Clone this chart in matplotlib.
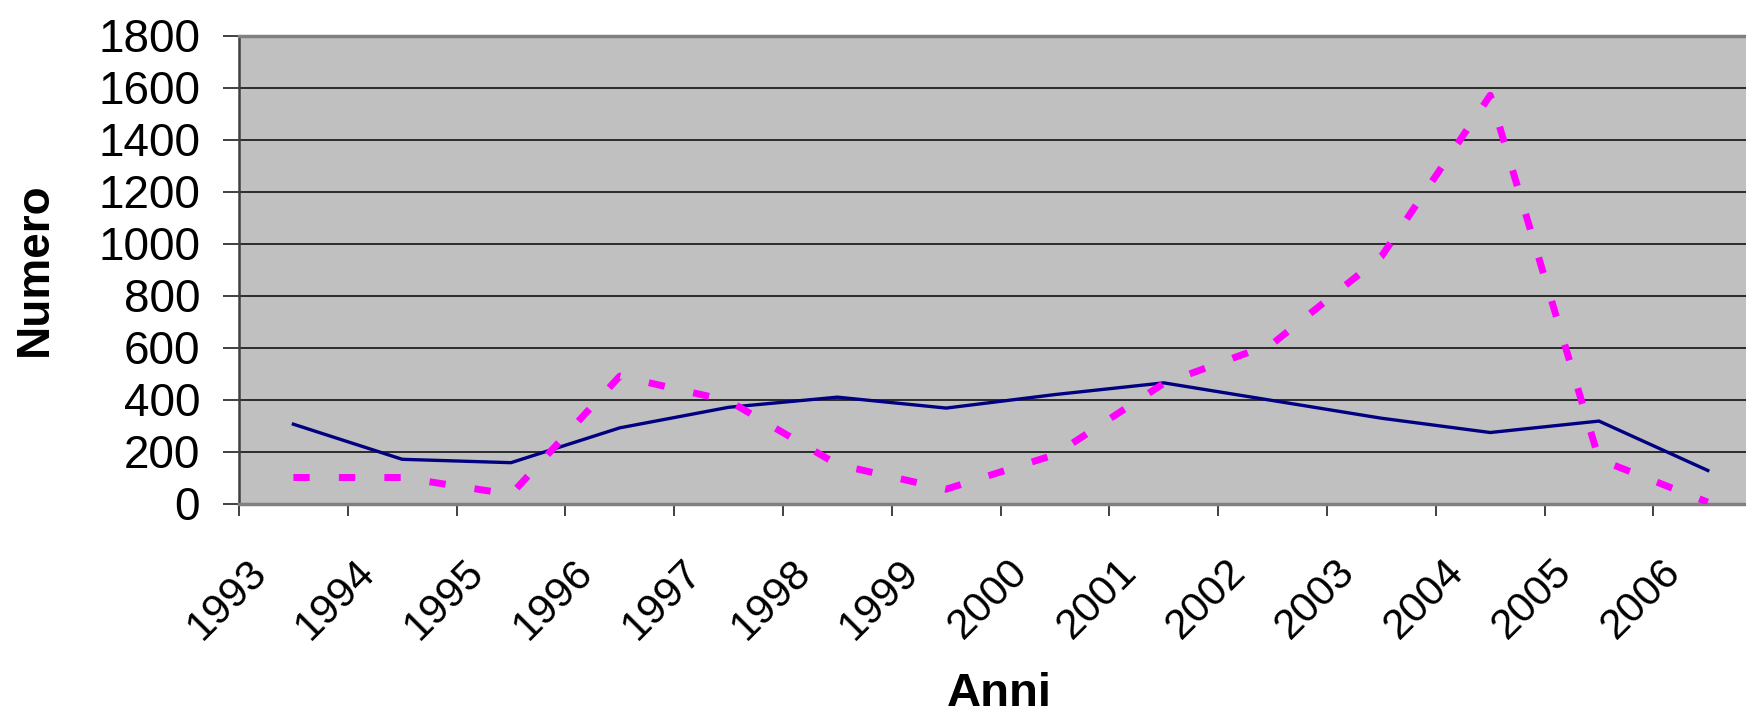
import matplotlib
matplotlib.use("Agg")
import matplotlib.pyplot as plt
from matplotlib.transforms import ScaledTranslation
import numpy as np

years = ["1993", "1994", "1995", "1996", "1997", "1998", "1999",
         "2000", "2001", "2002", "2003", "2004", "2005", "2006"]
serie_blu = [305, 170, 157, 291, 370, 409, 367, 419, 464, 396, 328, 273, 317, 127]
serie_rosa = [100, 100, 35, 490, 395, 150, 55, 188, 462, 615, 950, 1570, 170, 5]
y_ticks = [0, 200, 400, 600, 800, 1000, 1200, 1400, 1600, 1800]

plt.rcParams['font.family'] = ['Liberation Sans', 'DejaVu Sans']

W, H = 1746, 717
fig = plt.figure(figsize=(W / 100, H / 100), dpi=100)
left = 239 / W
bottom = (H - 503.5) / H
width = (14 * 108.8) / W
height = 468 / H
ax = fig.add_axes([left, bottom, width, height])
ax.set_facecolor('#C0C0C0')

x = np.arange(len(years)) + 0.5
ax.plot(x, serie_blu, color='#000080', lw=2.4, zorder=3, solid_joinstyle='miter')
ax.plot(x, serie_rosa, color='#FF00FF', lw=5, dashes=(2.35, 4.2),
        dash_capstyle='butt', zorder=4)

ax.set_xlim(0, 14)
ax.set_ylim(0, 1800)
ax.set_yticks(y_ticks)
ax.set_yticklabels([str(v) for v in y_ticks])
ax.yaxis.grid(True, color='#202020', lw=1.3)
ax.set_axisbelow(True)
ax.set_xticks(np.arange(0, 15))
ax.set_xticklabels([])
ax.tick_params(axis='x', direction='out', length=8.8, width=1.2, color='#202020')
ax.tick_params(axis='y', direction='out', length=11.5, width=1.2, color='#202020',
               pad=16.5, labelsize=33)

for s in ['top', 'bottom']:
    ax.spines[s].set_color('#808080')
    ax.spines[s].set_linewidth(2.5)
ax.spines['left'].set_color('#404040')
ax.spines['left'].set_linewidth(1.8)
ax.spines['right'].set_visible(False)

offset = ScaledTranslation(-0.33, -0.626, fig.dpi_scale_trans)
trans = ax.get_xaxis_transform() + offset
for xi, lab in zip(x, years):
    ax.text(xi, 0, lab, transform=trans, rotation=45, rotation_mode='anchor',
            ha='right', va='center', fontsize=30.5, clip_on=False)

fig.text(34.5 / W, 1 - 269 / H, 'Numero', rotation=90, ha='center', va='center',
         fontsize=33, fontweight='bold')
fig.text(999 / W, 1 - 715.5 / H, 'Anni', ha='center', va='bottom',
         fontsize=34, fontweight='bold')

fig.savefig('out.png', dpi=100)
